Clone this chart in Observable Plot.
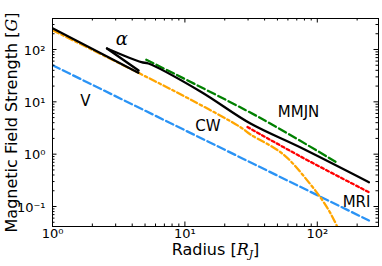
<!DOCTYPE html>
<html><head><meta charset="utf-8">
<script src="https://cdn.jsdelivr.net/npm/d3@7"></script>
<script src="https://cdn.jsdelivr.net/npm/@observablehq/plot@0.6"></script>
<style>html,body{margin:0;padding:0;background:#fff}svg{display:block}</style>
</head><body><div id="chart"></div>
<script>
// ---- data (radius in R_J, field in G) ----
const vRadius = [1, 245.7];
const vField = [50, 0.054];

const diskRadius = [1, 4.45];
const diskField = [255, 36];

// alpha-disk: short lower branch of the wedge, then the long curve
const alphaWedgeRadius = [2.58, 4.47];
const alphaWedgeField = [104.5, 39.7];
const alphaRadius = [2.58, 4.69, 5.30, 13.1, 31.3, 74.8, 245.7];
const alphaField = [104.5, 57.2, 54.0, 15.8, 3.85, 1.34, 0.291];

const cwRadius = [1, 4.61, 11.0, 26.3, 31.3, 55.6, 89.0, 109.7, 126.1, 142.4];
const cwField = [233.8, 34.3, 11.1, 3.28, 2.38, 0.985, 0.263, 0.130, 0.0734, 0.04];

const mmjnRadius = [5.11, 37.2, 143.2];
const mmjnField = [63.6, 4.91, 0.672];

const mriRadius = [29.7, 74.8, 245.7];
const mriField = [3.30, 0.902, 0.1875];

const labelNames = ["V", "CW", "MMJN", "MRI"];
const labelRadius = [1.77, 14.9, 72.2, 198];
const labelField = [10.1, 3.38, 6.4, 0.122];
const alphaLabel = {text: "α", r: 3.34, B: 155};

const xMajor = [1, 10, 100];
const xTickLabels = ["10⁰", "10¹", "10²"];
const yMajor = [0.1, 1, 10, 100];
const yTickLabels = ["10⁻¹", "10⁰", "10¹", "10²"];
const xDomain = [1, 290];
const yDomain = [0.0415, 391];

// ---- build tables ----
const tbl = (rs, bs) => rs.map((r, i) => ({r, B: bs[i]}));
const minors = (decades, lo, hi) => {
  const out = [];
  for (const d of decades) for (let k = 2; k <= 9; k++) { const v = k * d; if (v >= lo && v <= hi) out.push(v); }
  return out;
};
const xMinor = minors([1, 10, 100], xDomain[0], xDomain[1]);
const yMinor = minors([0.01, 0.1, 1, 10, 100], yDomain[0], yDomain[1]);
const labels = labelNames.map((t, i) => ({text: t, r: labelRadius[i], B: labelField[i]}));

const W = 382, H = 266, mL = 52, mR = 4, mT = 18, mB = 40;
const iW = W - mL - mR, iH = H - mT - mB;
const MAJ = 4.5, MIN = 2.5;
const lw = 2.3;

const chart = Plot.plot({
  width: W, height: H,
  marginLeft: mL, marginRight: mR, marginTop: mT, marginBottom: mB,
  style: {fontFamily: "DejaVu Sans", fontSize: "13px", background: "white", color: "black"},
  x: {type: "log", domain: xDomain, axis: null},
  y: {type: "log", domain: yDomain, axis: null},
  marks: [
    Plot.line(tbl(vRadius, vField), {x: "r", y: "B", stroke: "#2a93f5", strokeWidth: lw, strokeDasharray: "8,3.5", clip: true}),
    Plot.line(tbl(mmjnRadius, mmjnField), {x: "r", y: "B", stroke: "green", strokeWidth: lw, strokeDasharray: "8,3.5", clip: true, curve: "catmull-rom"}),
    Plot.line(tbl(cwRadius, cwField), {x: "r", y: "B", stroke: "orange", strokeWidth: lw, strokeDasharray: "7,3,2.5,3", clip: true, curve: "catmull-rom"}),
    Plot.line(tbl(mriRadius, mriField), {x: "r", y: "B", stroke: "red", strokeWidth: lw, strokeDasharray: "3,2.6", clip: true, curve: "catmull-rom"}),
    Plot.line(tbl(diskRadius, diskField), {x: "r", y: "B", stroke: "black", strokeWidth: lw, clip: true}),
    Plot.line(tbl(alphaWedgeRadius, alphaWedgeField), {x: "r", y: "B", stroke: "black", strokeWidth: lw, clip: true}),
    Plot.line(tbl(alphaRadius, alphaField), {x: "r", y: "B", stroke: "black", strokeWidth: lw, clip: true, curve: "catmull-rom"}),
    Plot.frame({stroke: "black", strokeWidth: 1}),
    // ticks inward on all four sides
    Plot.ruleX(xMajor, {x: d => d, insetTop: iH - MAJ, stroke: "black"}),
    Plot.ruleX(xMajor, {x: d => d, insetBottom: iH - MAJ, stroke: "black"}),
    Plot.ruleX(xMinor, {x: d => d, insetTop: iH - MIN, stroke: "black"}),
    Plot.ruleX(xMinor, {x: d => d, insetBottom: iH - MIN, stroke: "black"}),
    Plot.ruleY(yMajor, {y: d => d, insetRight: iW - MAJ, stroke: "black"}),
    Plot.ruleY(yMajor, {y: d => d, insetLeft: iW - MAJ, stroke: "black"}),
    Plot.ruleY(yMinor, {y: d => d, insetRight: iW - MIN, stroke: "black"}),
    Plot.ruleY(yMinor, {y: d => d, insetLeft: iW - MIN, stroke: "black"}),
    // tick labels
    Plot.text(xMajor, {x: d => d, text: (d, i) => xTickLabels[i], frameAnchor: "bottom", dy: 11, fontSize: 13}),
    Plot.text(yMajor, {y: d => d, text: (d, i) => yTickLabels[i], frameAnchor: "left", textAnchor: "end", dx: -7, dy: 1, fontSize: 13}),
    // axis titles
    Plot.text(["Radius [RJ]"], {text: d => d, frameAnchor: "bottom", textAnchor: "middle", dy: 28, fontSize: 16}),
    Plot.text(["Magnetic Field Strength [G]"], {text: d => d, frameAnchor: "left", textAnchor: "middle", dx: -41, rotate: -90, fontSize: 16}),
    // annotations
    Plot.text(labels, {x: "r", y: "B", text: "text", fontSize: 15}),
    Plot.text([alphaLabel], {x: "r", y: "B", text: "text", fontSize: 18, fontFamily: "DejaVu Serif", fontStyle: "italic"})
  ]
});
document.getElementById("chart").appendChild(chart);

// math-style pieces of the axis titles
const svg = d3.select(chart);
svg.selectAll("text").each(function () {
  const t = this.textContent;
  if (t === "Radius [RJ]") {
    const s = d3.select(this); s.text(null);
    s.append("tspan").text("Radius [");
    s.append("tspan").attr("font-family", "DejaVu Serif").attr("font-style", "italic").text("R");
    s.append("tspan").attr("font-family", "DejaVu Serif").attr("font-style", "italic").attr("font-size", 11).attr("dy", 3).text("J");
    s.append("tspan").attr("dy", -3).text("]");
  } else if (t === "Magnetic Field Strength [G]") {
    const s = d3.select(this); s.text(null);
    s.append("tspan").text("Magnetic Field Strength [");
    s.append("tspan").attr("font-family", "DejaVu Serif").attr("font-style", "italic").text("G");
    s.append("tspan").text("]");
  }
});
</script>
</body></html>
